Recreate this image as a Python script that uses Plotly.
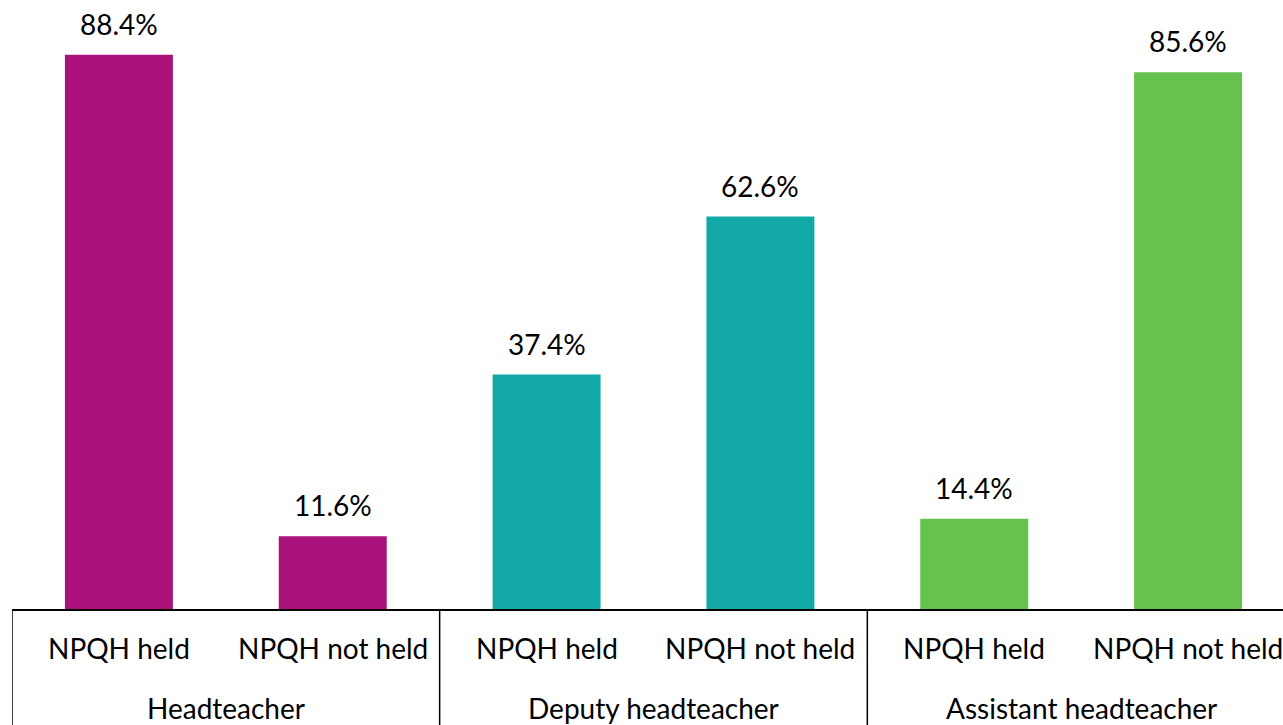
import plotly.graph_objects as go

groups = ["Headteacher", "Headteacher", "Deputy headteacher", "Deputy headteacher",
          "Assistant headteacher", "Assistant headteacher"]
subcats = ["NPQH held", "NPQH not held", "NPQH held", "NPQH not held",
           "NPQH held", "NPQH not held"]
values = [88.4, 11.6, 37.4, 62.6, 14.4, 85.6]
labels = ["88.4%", "11.6%", "37.4%", "62.6%", "14.4%", "85.6%"]
colors = ["#A8127A", "#A8127A", "#13A8A8", "#13A8A8", "#66C24F", "#66C24F"]

FONT = "Lato, 'Open Sans', sans-serif"
FS = 28
W, H = 1283, 725
PLOT_H = 609
B_MARGIN = H - PLOT_H

idx = list(range(len(values)))

fig = go.Figure(go.Bar(
    x=idx,
    y=values,
    marker=dict(color=colors, line=dict(width=0)),
    width=0.505,
    cliponaxis=False,
    hoverinfo="skip",
))

annotations = []
# value labels above the bars
for i, v, t in zip(idx, values, labels):
    annotations.append(dict(x=i, y=v, xref="x", yref="y", text=t, showarrow=False,
                            yanchor="bottom", yshift=12,
                            font=dict(family=FONT, size=FS, color="#000000")))
# sub-category labels
for i, s in zip(idx, subcats):
    annotations.append(dict(x=i, y=-39 / PLOT_H, xref="x", yref="paper", text=s,
                            showarrow=False, yanchor="middle",
                            font=dict(family=FONT, size=FS, color="#000000")))

# group labels and dividers
shapes = []
start = 0
bounds = []
for i in range(1, len(groups) + 1):
    if i == len(groups) or groups[i] != groups[start]:
        center = (start + i - 1) / 2
        annotations.append(dict(x=center, y=-99 / PLOT_H, xref="x", yref="paper",
                                text=groups[start], showarrow=False, yanchor="middle",
                                font=dict(family=FONT, size=FS, color="#000000")))
        bounds.append(start - 0.5)
        start = i
bounds.append(len(groups) - 0.5)
for b in bounds:
    shapes.append(dict(type="line", xref="x", yref="paper", x0=b, x1=b,
                       y0=0, y1=-B_MARGIN / PLOT_H - 0.05,
                       line=dict(color="#000000", width=1.5)))

fig.update_layout(
    width=W, height=H,
    margin=dict(l=12, r=0, t=0, b=B_MARGIN),
    paper_bgcolor="white", plot_bgcolor="white",
    showlegend=False,
    font=dict(family=FONT, size=FS, color="#000000"),
    annotations=annotations,
    shapes=shapes,
)
fig.update_xaxes(
    range=[-0.5, 5.5 - 12 / 214],
    showline=True, linecolor="#000000", linewidth=2,
    showticklabels=False, ticks="", showgrid=False, zeroline=False,
    automargin=False,
)
fig.update_yaxes(range=[0, PLOT_H / 6.27], visible=False, showgrid=False, zeroline=False,
                 automargin=False)

fig.write_html("out.html",
               config={"displayModeBar": False},
               post_script="document.body.style.margin='0';document.body.style.overflow='hidden';")
